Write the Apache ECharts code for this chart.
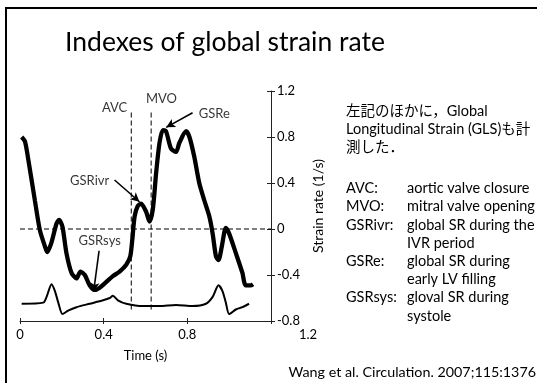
<!DOCTYPE html>
<html>
<head>
<meta charset="utf-8">
<script src="https://cdn.jsdelivr.net/npm/echarts@6/dist/echarts.min.js"></script>
<style>
html,body{margin:0;padding:0;background:#fff;}
#c{width:537px;height:383px;}
</style>
</head>
<body>
<div id="c"></div>
<script>
// ---- data ----
const gsrTime  = [0.008,0.024,0.04,0.071,0.095,0.119,0.13,0.15,0.175,0.187,0.203,0.222,0.246,0.27,0.289,0.31,0.333,0.357,0.381,0.413,0.444,0.476,0.508,0.527,0.537,0.548,0.563,0.579,0.603,0.619,0.635,0.651,0.667,0.683,0.698,0.722,0.746,0.762,0.794,0.81,0.833,0.857,0.881,0.905,0.921,0.937,0.949,0.965,0.984,1.0,1.032,1.063,1.079,1.103,1.114];
const gsrValue = [0.80,0.76,0.60,0.25,-0.01,-0.15,-0.20,-0.12,0.05,0.08,0.02,-0.21,-0.38,-0.43,-0.37,-0.40,-0.49,-0.53,-0.51,-0.46,-0.41,-0.37,-0.31,-0.24,-0.09,0.11,0.20,0.22,0.15,0.065,0.17,0.49,0.75,0.86,0.85,0.70,0.67,0.75,0.85,0.80,0.63,0.40,0.25,0.11,-0.04,-0.24,-0.27,-0.15,0.01,-0.04,-0.21,-0.38,-0.49,-0.49,-0.48];
const ecgTime  = [0.008,0.111,0.127,0.151,0.167,0.183,0.203,0.23,0.27,0.333,0.397,0.429,0.444,0.468,0.508,0.587,0.667,0.746,0.825,0.889,0.921,0.949,0.968,0.984,1.0,1.032,1.063,1.095];
const ecgValue = [-0.65,-0.64,-0.59,-0.48,-0.54,-0.64,-0.74,-0.71,-0.68,-0.65,-0.62,-0.60,-0.58,-0.62,-0.65,-0.67,-0.67,-0.66,-0.67,-0.65,-0.59,-0.49,-0.54,-0.64,-0.74,-0.70,-0.68,-0.65];
const avcTime = 0.532;
const mvoTime = 0.627;
const markerRange = [-0.70, 1.03];
const xTicks = [0, 0.4, 0.8, 1.2];
const yTicks = [-0.8, -0.4, 0, 0.4, 0.8, 1.2];
const labelNames  = ['AVC','MVO','GSRe','GSRivr','GSRsys'];
const labelPoints = [[0.452,1.05],[0.676,1.13],[0.929,1.0],[0.333,0.42],[0.381,-0.10]];
const arrowFrom = [[0.825,1.011],[0.452,0.426],[0.378,-0.189]];
const arrowTo   = [[0.699,0.884],[0.571,0.237],[0.352,-0.545]];
const titleText = 'Indexes of global strain rate';
const noteLines = ['左記のほかに，Global','Longitudinal Strain (GLS)も計','測した．'];
const defTerms = ['AVC:','MVO:','GSRivr:','','GSRe:','','GSRsys:',''];
const defTexts = ['aortic valve closure','mitral valve opening','global SR during the','IVR period','global SR during','early LV filling','gloval SR during','systole'];
const citation = 'Wang et al. Circulation. 2007;115:1376';

const FONT = "Lato, 'Noto Sans CJK JP', sans-serif";
const fmt = v => String(Math.round(v * 10) / 10);

const gsrData = gsrTime.map((t, i) => [t, gsrValue[i]]);
const ecgData = ecgTime.map((t, i) => [t, ecgValue[i]]);

const graphics = [
  {type:'rect', shape:{x:6, y:8, width:600, height:500}, style:{fill:'none', stroke:'#000', lineWidth:2}, silent:true}
];
noteLines.forEach((s, i) => graphics.push({type:'text', x:346, y:111.5 + i*18, style:{text:s, fontSize:14.5, fontFamily:FONT, fill:'#000', verticalAlign:'middle'}}));
defTexts.forEach((s, i) => {
  const y = 188.5 + i*18.2;
  if (defTerms[i]) graphics.push({type:'text', x:346, y:y, style:{text:defTerms[i], fontSize:14.5, fontFamily:FONT, fill:'#000', verticalAlign:'middle'}});
  graphics.push({type:'text', x:407, y:y, style:{text:s, fontSize:14.5, fontFamily:FONT, fill:'#000', verticalAlign:'middle'}});
});
graphics.push({type:'text', x:536, y:372, style:{text:citation, fontSize:14.3, fontFamily:FONT, fill:'#000', align:'right', verticalAlign:'middle'}});

const axisCommonX = {type:'value', min:0, max:1.2, interval:0.4, position:'bottom', offset:0};
const axisCommonY = {type:'value', min:-0.8, max:1.2, interval:0.4, position:'right', offset:0};

const option = {
  animation:false,
  backgroundColor:'#fff',
  textStyle:{fontFamily:FONT},
  title:{text:titleText, left:220, top:24, textAlign:'center',
    textStyle:{fontSize:26.5, fontWeight:'normal', fontFamily:FONT, color:'#000'}},
  grid:{left:20, right:266, top:91, bottom:62, containLabel:false},
  xAxis:[
    Object.assign({}, axisCommonX, {
      name:'Time (s)', nameLocation:'middle', nameGap:28,
      nameTextStyle:{fontSize:13, color:'#000', fontFamily:FONT},
      axisLine:{show:true, onZero:false, lineStyle:{color:'#222', width:1}},
      axisTick:{show:true, inside:false, length:3, lineStyle:{color:'#222'}},
      splitLine:{show:false},
      axisLabel:{fontSize:13, color:'#000', margin:7, fontFamily:FONT,
        formatter: v => Math.abs(v - 1.2) < 1e-6 ? '{r|' + fmt(v) + '}' : fmt(v),
        rich:{r:{fontSize:13, color:'#000', fontFamily:FONT, padding:[0,0,0,74]}}}
    }),
    Object.assign({}, axisCommonX, {
      axisLine:{show:false, onZero:false}, axisLabel:{show:false}, splitLine:{show:false},
      axisTick:{show:true, inside:true, length:3, lineStyle:{color:'#222'}}
    })
  ],
  yAxis:[
    Object.assign({}, axisCommonY, {
      name:'Strain rate (1/s)', nameLocation:'middle', nameGap:40, nameRotate:90,
      nameTextStyle:{fontSize:14, color:'#000', fontFamily:FONT},
      axisLine:{show:true, onZero:false, lineStyle:{color:'#222', width:1}},
      axisTick:{show:true, inside:false, length:4, lineStyle:{color:'#222'}},
      splitLine:{show:false},
      axisLabel:{fontSize:13, color:'#000', margin:6, fontFamily:FONT, formatter:fmt}
    }),
    Object.assign({}, axisCommonY, {
      axisLine:{show:false, onZero:false}, axisLabel:{show:false}, splitLine:{show:false},
      axisTick:{show:true, inside:true, length:4, lineStyle:{color:'#222'}}
    })
  ],
  graphic:graphics,
  series:[
    {type:'line', name:'zero', data:[[xTicks[0],0],[xTicks[xTicks.length-1],0]], showSymbol:false, silent:true,
      lineStyle:{color:'#000', width:1, type:[5,3]}},
    {type:'line', name:'AVC', data:[[avcTime,markerRange[0]],[avcTime,markerRange[1]]], showSymbol:false, silent:true,
      lineStyle:{color:'#000', width:1, type:[5,3]}},
    {type:'line', name:'MVO', data:[[mvoTime,markerRange[0]],[mvoTime,markerRange[1]-0.015]], showSymbol:false, silent:true,
      lineStyle:{color:'#000', width:1, type:[5,3]}},
    {type:'line', name:'ECG', data:ecgData, showSymbol:false, smooth:0.25,
      lineStyle:{color:'#000', width:2}},
    {type:'line', name:'GSR', data:gsrData, showSymbol:false, smooth:0.25,
      lineStyle:{color:'#000', width:4.3}, z:3,
      markLine:{silent:true, symbol:['none','arrow'], symbolSize:[7,9],
        lineStyle:{color:'#000', width:1.6, type:'solid'}, label:{show:false},
        data: arrowFrom.map((p, i) => [{coord:p}, {coord:arrowTo[i]}])}},
    {type:'scatter', name:'labels', symbolSize:0, silent:true,
      data: labelNames.map((n, i) => ({name:n, value:labelPoints[i]})),
      label:{show:true, position:'inside', formatter:'{b}', fontSize:13, color:'#000', fontFamily:FONT}}
  ]
};
const chart = echarts.init(document.getElementById('c'), null, {renderer:'canvas'});
chart.setOption(option);
</script>
</body>
</html>
